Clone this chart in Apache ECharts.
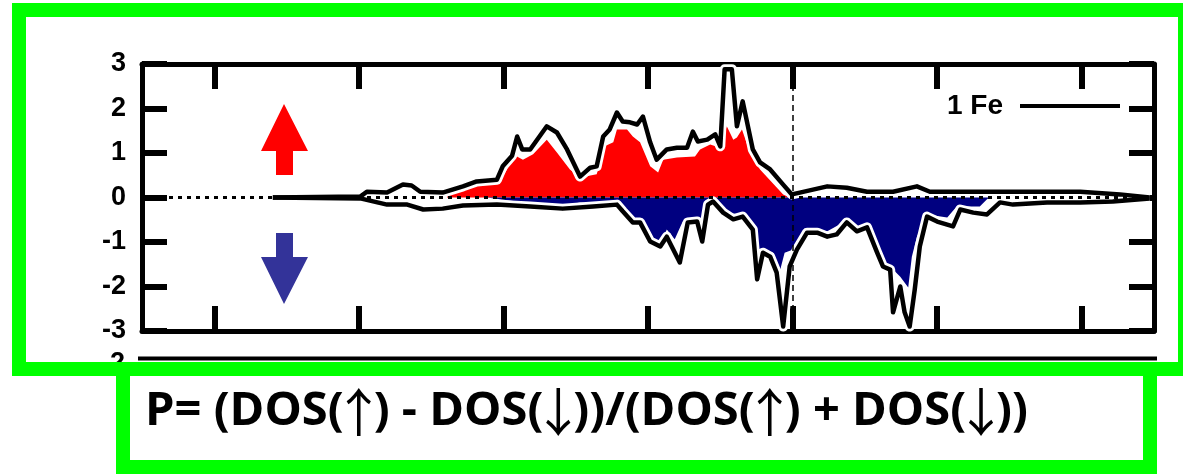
<!DOCTYPE html>
<html><head><meta charset="utf-8">
<script src="https://cdn.jsdelivr.net/npm/echarts@6/dist/echarts.min.js"></script>
<style>html,body{margin:0;padding:0;background:#fff}#c{width:1183px;height:474px}</style>
</head><body><div id="c"></div>
<script>
// ---- data (energy in eV relative to E_F, DOS in states/eV) ----
const xTickValues = [-8, -6, -4, -2, 0, 2, 4];
const yMin = -3, yMax = 3;

// total spin-up DOS (black outline, upper)
const upX = [-7.19,-5.98,-5.89,-5.61,-5.39,-5.27,-5.15,-4.84,-4.56,-4.37,-4.09,-4.01,-3.88,-3.81,-3.74,-3.63,-3.40,-3.26,-3.12,-2.94,-2.80,-2.71,-2.62,-2.53,-2.43,-2.35,-2.25,-2.15,-2.07,-1.97,-1.88,-1.74,-1.60,-1.46,-1.38,-1.31,-1.18,-1.07,-1.00,-0.94,-0.84,-0.77,-0.69,-0.55,-0.45,-0.31,-0.13,-0.01,0.10,0.48,0.75,1.03,1.39,1.72,1.90,2.59,3.98,4.53,4.94];
const upY = [0,0.02,0.13,0.11,0.29,0.27,0.13,0.11,0.25,0.36,0.40,0.70,0.94,1.37,1.08,1.08,1.60,1.46,1.08,0.47,0.67,0.70,1.37,1.53,1.91,1.71,1.69,1.64,1.82,1.24,0.85,1.08,1.12,1.12,1.48,1.26,1.30,1.42,1.15,2.88,2.88,1.60,2.16,1.08,0.79,0.63,0.29,0.07,0.11,0.25,0.22,0.13,0.13,0.25,0.13,0.13,0.13,0.07,0];

// total spin-down DOS (black outline, lower)
const dnX = [-7.19,-5.98,-5.61,-5.33,-5.11,-4.84,-4.56,-4.09,-3.63,-3.18,-2.76,-2.43,-2.35,-2.21,-2.11,-1.97,-1.83,-1.74,-1.56,-1.45,-1.32,-1.25,-1.17,-1.10,-0.96,-0.82,-0.69,-0.55,-0.49,-0.41,-0.31,-0.22,-0.13,-0.04,0.06,0.20,0.34,0.48,0.61,0.75,0.89,1.03,1.17,1.25,1.35,1.39,1.49,1.55,1.62,1.69,1.76,1.86,2.00,2.22,2.32,2.50,2.69,2.87,3.05,3.52,3.98,4.43,4.94];
const dnY = [0,-0.02,-0.16,-0.16,-0.27,-0.25,-0.18,-0.16,-0.20,-0.25,-0.20,-0.16,-0.31,-0.56,-0.56,-0.99,-1.10,-0.88,-1.46,-0.56,-0.54,-0.99,-0.16,-0.09,-0.34,-0.49,-0.43,-0.72,-1.84,-1.24,-1.33,-1.69,-2.90,-1.55,-1.17,-0.79,-0.79,-0.88,-0.83,-0.56,-0.76,-0.67,-1.24,-1.55,-1.62,-2.58,-2.00,-2.58,-2.90,-2.07,-1.10,-0.43,-0.54,-0.65,-0.27,-0.34,-0.38,-0.11,-0.16,-0.11,-0.11,-0.09,-0.02];

// Fe spin-up (red fill)
const redX = [-4.78,-4.74,-4.46,-4.05,-3.95,-3.87,-3.73,-3.59,-3.40,-3.26,-3.08,-2.94,-2.71,-2.60,-2.48,-2.43,-2.29,-2.21,-2.11,-1.97,-1.86,-1.79,-1.60,-1.35,-1.28,-1.14,-1.00,-0.91,-0.82,-0.77,-0.70,-0.59,-0.45,-0.13,-0.04];
const redY = [0.02,0.07,0.25,0.36,0.63,0.97,0.85,0.97,1.30,1.01,0.63,0.45,0.52,1.15,1.24,1.53,1.53,1.37,1.24,0.70,0.56,0.85,0.90,0.92,1.08,1.19,1.12,1.60,1.30,1.35,1.53,1.01,0.63,0.07,0];

// Fe spin-down (navy fill)
const blueX = [-4.23,-3.63,-3.18,-2.94,-2.39,-2.29,-2.15,-2.07,-1.97,-1.83,-1.74,-1.63,-1.52,-1.32,-1.25,-1.17,-1.05,-0.91,-0.73,-0.59,-0.49,-0.41,-0.27,-0.17,-0.11,0.01,0.10,0.28,0.48,0.70,0.84,0.97,1.11,1.25,1.39,1.49,1.60,1.65,1.72,1.86,2.14,2.27,2.59,2.69,2.73];
const blueY = [0,-0.13,-0.18,-0.11,-0.16,-0.34,-0.49,-0.54,-0.94,-1.06,-0.72,-0.94,-0.54,-0.54,-0.72,-0.11,-0.16,-0.34,-0.38,-0.65,-1.33,-1.21,-1.24,-1.62,-1.24,-1.17,-0.88,-0.72,-0.76,-0.56,-0.72,-0.65,-1.10,-1.46,-1.62,-1.78,-2.02,-1.33,-0.88,-0.38,-0.45,-0.20,-0.20,-0.04,0];

const fermiLevel = 0;
const legendLabel = '1 Fe';
const formula = 'P= (DOS(\u2191) - DOS(\u2193))/(DOS(\u2191) + DOS(\u2193))';

// ---- chart ----
function pairs(xs, ys) { return xs.map((x, i) => [x, ys[i]]); }

// formula: bold text with thin, tall arrows (rich text), horizontally condensed to fit
const fSize = 47;
const aSize = 52;
const aBox = 30;
const mainFont = 'bold ' + fSize + 'px "Open Sans"';
const cv = document.createElement('canvas').getContext('2d');
cv.font = mainFont;
let richText = '', totalW = 0;
for (const ch of formula) {
  if (ch === '\u2191' || ch === '\u2193') {
    richText += '{a|' + ch + '}';
    totalW += aBox;
  } else {
    richText += ch;
    totalW += cv.measureText(ch).width;
  }
}
const formulaScale = 883 / totalW;

const axisLineStyle = { color: '#000', width: 5 };
const tickStyle = { color: '#000', width: 6 };
const mkX = (pos) => ({
  type: 'value', min: -9, max: 5, position: pos,
  axisLine: { show: true, onZero: false, lineStyle: axisLineStyle },
  axisTick: { show: true, inside: true, length: 25, customValues: xTickValues, lineStyle: tickStyle },
  axisLabel: { show: false }, splitLine: { show: false }
});
const mkY = (pos, labels) => ({
  type: 'value', min: yMin, max: yMax, interval: 1, position: pos,
  axisLine: { show: true, onZero: false, lineStyle: axisLineStyle },
  axisTick: { show: true, inside: true, length: 25, lineStyle: tickStyle },
  axisLabel: { show: labels, color: '#000', fontFamily: 'Liberation Sans', fontWeight: 'bold', fontSize: 27, margin: 16 },
  splitLine: { show: false }
});

const chart = echarts.init(document.getElementById('c'), null, { renderer: 'canvas' });
chart.setOption({
  animation: false,
  backgroundColor: '#fff',
  grid: { left: 142, right: 29, top: 64, bottom: 143, containLabel: false },
  xAxis: [mkX('bottom'), mkX('top')],
  yAxis: [mkY('left', true), mkY('right', false)],
  series: [
    { name: 'Fe up', type: 'line', data: pairs(redX, redY), symbol: 'none', silent: true,
      lineStyle: { width: 0 }, areaStyle: { color: '#FF0000', opacity: 1 } },
    { name: 'Fe down', type: 'line', data: pairs(blueX, blueY), symbol: 'none', silent: true,
      lineStyle: { width: 0 }, areaStyle: { color: '#000080', opacity: 1 } },
    { name: 'halo up', type: 'line', data: pairs(upX, upY), symbol: 'none', silent: true,
      lineStyle: { color: '#fff', width: 10, join: 'round' } },
    { name: 'halo down', type: 'line', data: pairs(dnX, dnY), symbol: 'none', silent: true,
      lineStyle: { color: '#fff', width: 10, join: 'round' } },
    { name: '1 Fe', type: 'line', data: pairs(upX, upY), symbol: 'none', silent: true,
      lineStyle: { color: '#000', width: 4.5, join: 'round' } },
    { name: '1 Fe dn', type: 'line', data: pairs(dnX, dnY), symbol: 'none', silent: true,
      lineStyle: { color: '#000', width: 4.5, join: 'round' },
      markLine: { silent: true, symbol: 'none', label: { show: false },
        data: [
          { yAxis: 0, lineStyle: { color: '#000', width: 3, type: [4, 5] } },
          { xAxis: fermiLevel, lineStyle: { color: '#000', width: 1.5, type: [6, 4] } }
        ] } }
  ],
  graphic: [
    // spin arrows
    { type: 'polygon', shape: { points: [[284,104],[308,151],[293,151],[293,175],[276,175],[276,151],[261,151]] }, style: { fill: '#FF0000' } },
    { type: 'polygon', shape: { points: [[276,233],[293,233],[293,257],[308,257],[284,304],[261,257],[276,257]] }, style: { fill: '#333399' } },
    // legend
    { type: 'text', x: 947, y: 106, style: { text: legendLabel, font: 'bold 28px "Liberation Sans"', fill: '#000', verticalAlign: 'middle' } },
    { type: 'line', shape: { x1: 1020, y1: 106, x2: 1120, y2: 106 }, style: { stroke: '#000', lineWidth: 4 } },
    // top of the next (cropped) panel
    { type: 'line', shape: { x1: 138, y1: 358.5, x2: 1157, y2: 358.5 }, style: { stroke: '#000', lineWidth: 4 }, z: 50 },
    { type: 'text', x: 125, y: 364, style: { text: '2', font: 'bold 27px "Liberation Sans"', fill: '#000', align: 'right', verticalAlign: 'middle' }, z: 50 },
    // green frames
    { type: 'rect', shape: { x: 19, y: 10, width: 1166, height: 359 }, style: { fill: 'none', stroke: '#00FF00', lineWidth: 14 }, z: 100 },
    { type: 'rect', shape: { x: 123, y: 369, width: 1027, height: 98 }, style: { fill: '#fff', stroke: '#00FF00', lineWidth: 14 }, z: 100 },
    // formula
    { type: 'text', x: 145, y: 412, scaleX: formulaScale, z: 110,
      style: { text: richText, font: mainFont, fill: '#000', verticalAlign: 'middle',
        rich: { a: { fontFamily: 'Noto Sans CJK SC', fontSize: aSize, fontWeight: 'normal', fill: '#000', width: aBox, align: 'center' } } } }
  ]
});
</script></body></html>
